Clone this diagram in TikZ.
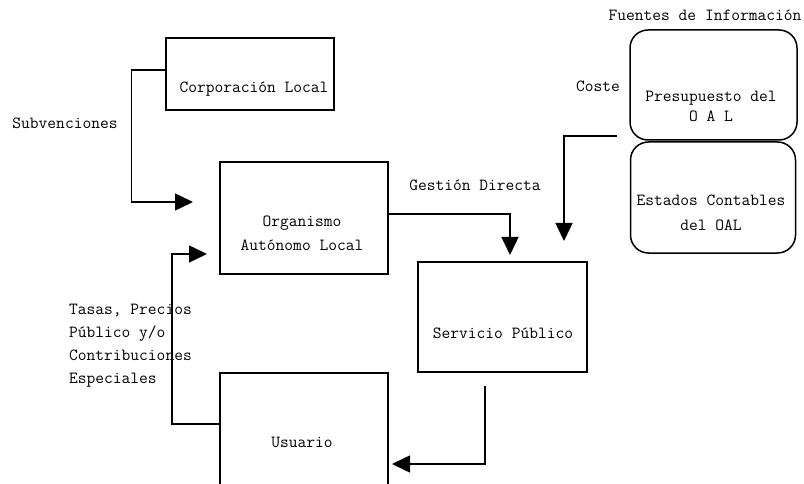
\documentclass[tikz,border=0pt]{standalone}
\usepackage{fontspec}
\usetikzlibrary{arrows.meta}
\begin{document}
\begin{tikzpicture}[x=1pt,y=-1pt,
  txt/.style={font=\ttfamily\fontsize{17}{#1}\selectfont, inner sep=0pt},
  txt/.default=24,
  box/.style={draw, line width=1.5pt, minimum width=#1, inner sep=0pt},
  rbox/.style={box=#1, rounded corners=18pt},
  conn/.style={line width=1.5pt, -{Triangle[length=18pt,width=17pt]}}
]
\useasboundingbox (0,0) rectangle (804,484);
\clip (0,0) rectangle (804,484);

% boxes
\node[box=168pt, minimum height=72pt]  (corp) at (250,74)    {};
\node[box=168pt, minimum height=112pt] (oal)  at (304,218)   {};
\node[box=169pt, minimum height=110pt] (serv) at (502.5,317) {};
\node[box=168pt, minimum height=120pt] (usu)  at (304,433)   {};
\node[rbox=167pt, minimum height=110pt] (pres) at (713.5,85)  {};
\node[rbox=165pt, minimum height=111pt] (est)  at (713,197.5) {};

% box texts
\node[txt, anchor=base] (corpT) at (254,93) {Corporación Local};
\node[txt, align=center] (oalT) at (302,233) {Organismo\\Autónomo Local};
\node[txt, anchor=base] (servT) at (503,338) {Servicio Público};
\node[txt, anchor=base] (usuT) at (302,447) {Usuario};
\node[txt=20, align=center] (presT) at (711,106) {Presupuesto del\\O A L};
\node[txt=25, align=center] (estT) at (711,213) {Estados Contables\\del OAL};

% labels
\node[txt, anchor=base] (fuentes) at (705,21) {Fuentes de Información};
\node[txt, anchor=base] (coste) at (598,92) {Coste};
\node[txt, anchor=base] (subv) at (65,129) {Subvenciones};
\node[txt, anchor=base] (gest) at (475,191) {Gestión Directa};
\node[txt=23, align=left, anchor=west] (tasas) at (69,345.5)
  {Tasas, Precios\\Público y/o\\Contribuciones\\Especiales};

% connector end points
\coordinate (subEnd)   at (193,202);
\coordinate (tasEnd)   at (207,254);
\coordinate (gesEnd)   at (510,255);
\coordinate (costeIn)  at (617,136);
\coordinate (costeEnd) at (564,241);
\coordinate (servOut)  at (485,386);
\coordinate (usuEnd)   at (392,464);

% connectors
\draw[conn] ([yshift=4pt]corp.west) -- ++(-34,0) |- (subEnd);
\draw[conn] (usu.west |- 0,424) -| (172,254) -- (tasEnd);
\draw[conn] (oal.east |- 0,214) -| (gesEnd);
\draw[conn] (costeIn) -| (costeEnd);
\draw[conn] (servOut) |- (usuEnd);
\end{tikzpicture}
\end{document}
